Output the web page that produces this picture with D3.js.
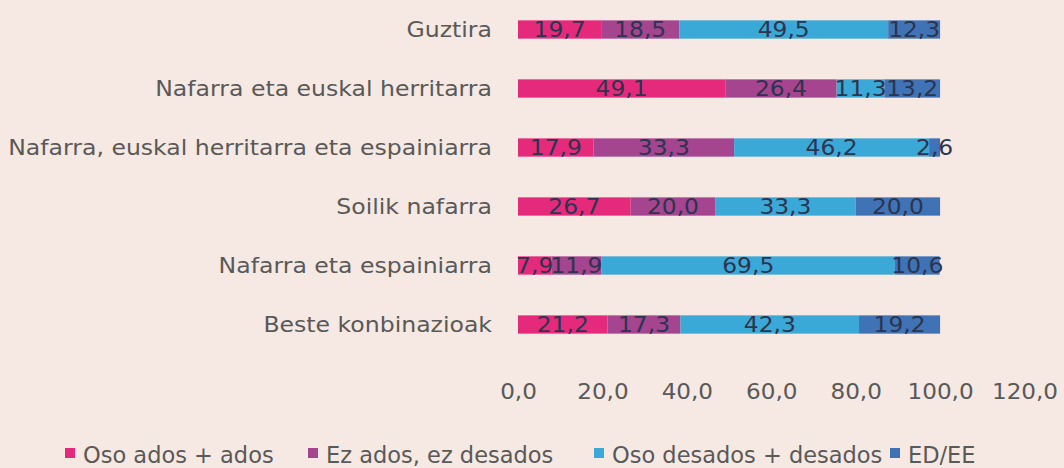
<!DOCTYPE html>
<html>
<head>
<meta charset="utf-8">
<script src="https://cdn.jsdelivr.net/npm/d3@7"></script>
<style>
  html, body { margin: 0; padding: 0; background: #f6e8e2; }
  svg { display: block; }
</style>
</head>
<body>
<svg id="chart" width="1064" height="468"></svg>
<script>
const categories = [
  "Guztira",
  "Nafarra eta euskal herritarra",
  "Nafarra, euskal herritarra eta espainiarra",
  "Soilik nafarra",
  "Nafarra eta espainiarra",
  "Beste konbinazioak"
];
const seriesNames = ["Oso ados + ados", "Ez ados, ez desados", "Oso desados + desados", "ED/EE"];
const osoAdos     = [19.7, 49.1, 17.9, 26.7, 7.9, 21.2];
const ezAdos      = [18.5, 26.4, 33.3, 20.0, 11.9, 17.3];
const osoDesados  = [49.5, 11.3, 46.2, 33.3, 69.5, 42.3];
const edEe        = [12.3, 13.2, 2.6, 20.0, 10.6, 19.2];
const tickValues  = [0, 20, 40, 60, 80, 100, 120];
const colors = ["#e62a7b", "#a5448f", "#3ba9d7", "#3f73b6"];

const seriesValues = [osoAdos, ezAdos, osoDesados, edEe];
const rows = categories.map((c, i) => {
  const r = { cat: c };
  seriesNames.forEach((s, j) => r[s] = seriesValues[j][i]);
  return r;
});

const svg = d3.select("#chart");
const x = d3.scaleLinear().domain([0, 120]).range([518, 1024.5]);
const y = d3.scaleBand().domain(categories).range([0, 354]).paddingInner(0.69).paddingOuter(0.345);

const stack = d3.stack().keys(seriesNames)(rows);
const fmt = v => d3.format(".1f")(v).replace(".", ",");
const FONT = "DejaVu Sans, Verdana, sans-serif";

const g = svg.append("g");
stack.forEach((layer, j) => {
  g.selectAll(null).data(layer).enter().append("rect")
    .attr("x", d => x(d[0]))
    .attr("y", d => y(d.data.cat))
    .attr("width", d => x(d[1]) - x(d[0]))
    .attr("height", y.bandwidth())
    .attr("fill", colors[j]);
});
stack.forEach((layer, j) => {
  g.selectAll(null).data(layer).enter().append("g")
    .attr("transform", d => `translate(${(x(d[0]) + x(d[1])) / 2},${y(d.data.cat) + y.bandwidth() / 2})`)
    .append("text")
    .attr("transform", "scale(1.14,1)")
    .attr("dy", "0.36em")
    .attr("text-anchor", "middle")
    .attr("font-family", FONT)
    .attr("font-size", 20.5)
    .attr("fill", "#2b3550")
    .text(d => fmt(d.data[layer.key]));
});

// category axis
const yAxis = d3.axisLeft(y).tickSize(0).tickPadding(0);
const ya = svg.append("g").attr("transform", "translate(492,1)").call(yAxis);
ya.select(".domain").remove();
ya.selectAll("text").attr("font-family", FONT).attr("font-size", 20.5)
  .attr("fill", "#595959").attr("transform", "scale(1.15,1)");

// value axis
const xAxis = d3.axisBottom(x).tickValues(tickValues).tickSize(0).tickPadding(0).tickFormat(fmt);
const xa = svg.append("g").attr("transform", "translate(0,399)").call(xAxis);
xa.select(".domain").remove();
xa.selectAll("text").attr("font-family", FONT).attr("font-size", 21).attr("fill", "#595959")
  .attr("dy", "0").attr("y", 0).attr("transform", "scale(1.1,1)");

// legend
const legendX = [65, 308, 594, 890];
const leg = svg.append("g").attr("transform", "translate(0,463)");
seriesNames.forEach((s, j) => {
  const it = leg.append("g").attr("transform", `translate(${legendX[j]},0)`);
  it.append("rect").attr("x", 0).attr("y", -15).attr("width", 10).attr("height", 10).attr("fill", colors[j]);
  it.append("text").attr("x", 18).attr("y", 0)
    .attr("font-family", FONT).attr("font-size", 22.5)
    .attr("fill", "#595959").text(s);
});
</script>
</body>
</html>
